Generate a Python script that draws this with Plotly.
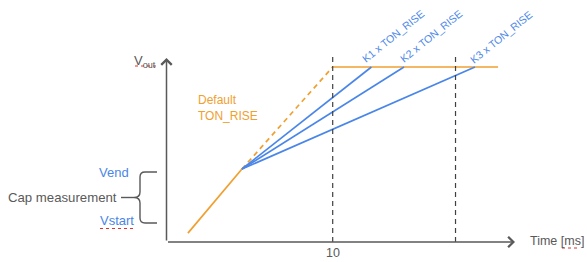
import plotly.graph_objects as go

# ---- data (time in ms, Vout normalised to final level) ----
t_default_solid = [1.29, 4.54]
v_default_solid = [0.051, 0.417]
t_default_dash = [4.54, 10.0]
v_default_dash = [0.417, 1.0]
t_plateau = [10.0, 19.95]
v_plateau = [1.0, 1.0]
knee_t, knee_v = 4.54, 0.417
k_end_t = [12.33, 14.29, 18.56]
k_labels = ["K1 x TON_RISE", "K2 x TON_RISE", "K3 x TON_RISE"]
marker_times = [10.0, 17.39]
marker_top = 1.057
v_end, v_start = 0.40, 0.109
x_tick_vals = [10]
x_tick_text = ["10"]

ORANGE = "#F0A030"
BLUE = "#4A86E8"
GRAY = "#595959"
DARK = "#404040"
FONT = "Liberation Sans, Arial, sans-serif"

W, H = 587, 262
X0PX, PXPERMS = 166.5, 16.62
Y0PX, PXPERV = 242.0, 175.0
xr = [(0 - X0PX) / PXPERMS, (W - X0PX) / PXPERMS]
yr = [(Y0PX - H) / PXPERV, Y0PX / PXPERV]


def px_x(px):
    return (px - X0PX) / PXPERMS


def px_y(py):
    return (Y0PX - py) / PXPERV


fig = go.Figure()

# default ramp
fig.add_trace(go.Scatter(x=t_default_solid, y=v_default_solid, mode="lines",
                         line=dict(color=ORANGE, width=1.7), hoverinfo="skip"))
fig.add_trace(go.Scatter(x=t_default_dash, y=v_default_dash, mode="lines",
                         line=dict(color=ORANGE, width=1.7, dash="5px,4px"), hoverinfo="skip"))
fig.add_trace(go.Scatter(x=t_plateau, y=v_plateau, mode="lines",
                         line=dict(color=ORANGE, width=1.7), hoverinfo="skip"))
# K ramps
for te in k_end_t:
    fig.add_trace(go.Scatter(x=[knee_t, te], y=[knee_v, 1.0], mode="lines",
                             line=dict(color=BLUE, width=1.7), hoverinfo="skip"))
# vertical dashed markers
for tm in marker_times:
    fig.add_trace(go.Scatter(x=[tm, tm], y=[0, marker_top], mode="lines",
                             line=dict(color=DARK, width=1.2, dash="5px,4px"), hoverinfo="skip"))

ann = []
# axes with arrows
ann.append(dict(x=px_x(515), y=0, ax=0, ay=0, xref="x", yref="y", axref="x", ayref="y",
                text="", showarrow=True, arrowhead=4, arrowsize=1.35, arrowwidth=1.5,
                arrowcolor=GRAY))
ann.append(dict(x=0, y=px_y(58), ax=0, ay=0, xref="x", yref="y", axref="x", ayref="y",
                text="", showarrow=True, arrowhead=4, arrowsize=1.35, arrowwidth=1.5,
                arrowcolor=GRAY))

def txt(text, x, y, size, color=GRAY, xanchor="center", yanchor="middle", angle=0, align="center"):
    ann.append(dict(text=text, x=x, y=y, xref="x", yref="y", showarrow=False,
                    xanchor=xanchor, yanchor=yanchor, textangle=angle, align=align,
                    font=dict(family=FONT, size=size, color=color)))

# tick label
for tv, tt in zip(x_tick_vals, x_tick_text):
    txt(tt, tv, px_y(253), 12.5)
txt("Time [ms]", px_x(528), px_y(241), 12.5, xanchor="left")
txt("V<sub>out</sub>", px_x(158), px_y(61), 13, xanchor="right")
txt("Default<br>TON_RISE", px_x(196), px_y(108), 12, color=ORANGE, xanchor="left", align="left")
txt("Vend", px_x(131), px_y(172), 13, color=BLUE, xanchor="right")
txt("Vstart", px_x(136), px_y(220), 13, color=BLUE, xanchor="right")
txt("Cap measurement", px_x(119), px_y(197), 13.2, xanchor="right")

k_centers = [(393, 36), (431, 36), (501, 37)]
for lab, (cx, cy) in zip(k_labels, k_centers):
    txt(lab, px_x(cx), px_y(cy), 10.5, color=BLUE, angle=-39)

shapes = []
# brace (pixel coordinates converted)
def P(px, py):
    return f"{px_x(px):.4f},{px_y(py):.4f}"

brace = (f"M{P(157, 172)} L{P(145, 172)} Q{P(140, 172)} {P(140, 177)} "
         f"L{P(140, 192)} Q{P(140, 197.5)} {P(134, 197.5)} "
         f"Q{P(140, 197.5)} {P(140, 203)} L{P(140, 218)} "
         f"Q{P(140, 223)} {P(145, 223)} L{P(157, 223)}")
shapes.append(dict(type="path", path=brace, xref="x", yref="y",
                   line=dict(color=GRAY, width=1.4)))
shapes.append(dict(type="line", x0=px_x(121), x1=px_x(134), y0=px_y(197.5), y1=px_y(197.5),
                   xref="x", yref="y", line=dict(color=GRAY, width=1.4)))
# spell-check squiggles
for (xa, xb, yy) in [(135, 157, 66), (100, 136, 228.5), (562, 578, 248)]:
    shapes.append(dict(type="line", x0=px_x(xa), x1=px_x(xb), y0=px_y(yy), y1=px_y(yy),
                       xref="x", yref="y", line=dict(color="#E03030", width=1, dash="dot")))

fig.update_layout(
    width=W, height=H, margin=dict(l=0, r=0, t=0, b=0),
    paper_bgcolor="white", plot_bgcolor="white", showlegend=False,
    xaxis=dict(range=xr, visible=False, fixedrange=True),
    yaxis=dict(range=yr, visible=False, fixedrange=True),
    annotations=ann, shapes=shapes,
)
fig.write_html("out.html", config={"displayModeBar": False},
               post_script="document.body.style.margin='0';document.body.style.overflow='hidden';")
